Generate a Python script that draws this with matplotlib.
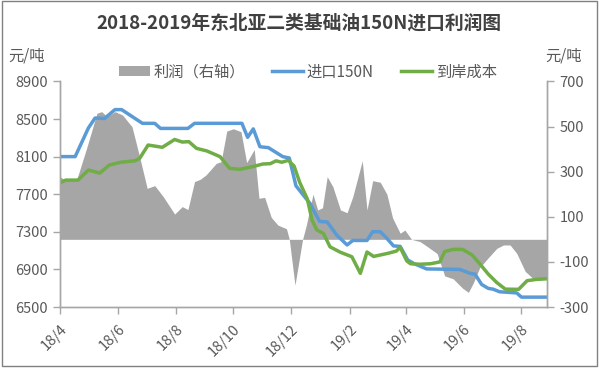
import matplotlib
matplotlib.use("Agg")
import matplotlib.pyplot as plt
import pandas as pd
from matplotlib.patches import Rectangle, Patch
from matplotlib.lines import Line2D

plt.rcParams['font.family'] = ['Noto Sans CJK SC', 'DejaVu Sans']
plt.rcParams['axes.unicode_minus'] = False

title = "2018-2019年东北亚二类基础油150N进口利润图"
unit_label = "元/吨"
series_names = ["利润（右轴）", "进口150N", "到岸成本"]

import_dates = ["2018-04-01", "2018-04-17", "2018-05-01", "2018-05-08", "2018-05-18", "2018-05-29",
                "2018-06-05", "2018-06-27", "2018-07-10", "2018-07-16", "2018-08-14", "2018-08-21",
                "2018-10-10", "2018-10-16", "2018-10-22", "2018-10-29", "2018-11-07", "2018-11-22",
                "2018-11-29", "2018-12-06", "2018-12-13", "2018-12-21", "2018-12-24", "2018-12-31",
                "2019-01-08", "2019-01-18", "2019-01-29", "2019-02-04", "2019-02-19", "2019-02-25",
                "2019-03-05", "2019-03-12", "2019-03-19", "2019-03-26", "2019-04-03", "2019-04-10",
                "2019-04-23", "2019-05-28", "2019-06-08", "2019-06-13", "2019-06-20", "2019-06-27",
                "2019-07-02", "2019-07-09", "2019-07-27", "2019-08-01", "2019-08-28"]
import_150n = [8100, 8100, 8405, 8510, 8505, 8600,
               8600, 8454, 8454, 8400, 8400, 8454,
               8454, 8305, 8395, 8205, 8195, 8100,
               8085, 7790, 7700, 7600, 7540, 7410,
               7405, 7266, 7160, 7208, 7208, 7301,
               7301, 7230, 7150, 7145, 7000, 6960,
               6905, 6900, 6858, 6850, 6740, 6698,
               6690, 6662, 6650, 6605, 6605]

cost_dates = ["2018-04-01", "2018-04-07", "2018-04-20", "2018-05-01", "2018-05-13", "2018-05-23",
              "2018-06-04", "2018-06-19", "2018-06-24", "2018-07-03", "2018-07-18", "2018-07-31",
              "2018-08-08", "2018-08-15", "2018-08-23", "2018-09-03", "2018-09-17", "2018-09-27",
              "2018-10-08", "2018-10-22", "2018-11-01", "2018-11-09", "2018-11-15", "2018-11-21",
              "2018-11-28", "2018-12-04", "2018-12-10", "2018-12-18", "2018-12-23", "2018-12-28",
              "2019-01-04", "2019-01-11", "2019-01-22", "2019-02-03", "2019-02-12", "2019-02-19",
              "2019-02-26", "2019-03-13", "2019-03-22", "2019-03-26", "2019-04-02", "2019-04-06",
              "2019-04-16", "2019-04-27", "2019-05-07", "2019-05-12", "2019-05-21", "2019-05-31",
              "2019-06-10", "2019-06-18", "2019-06-27", "2019-07-06", "2019-07-15", "2019-07-29",
              "2019-08-07", "2019-08-17", "2019-08-28"]
landed_cost = [7820, 7850, 7850, 7957, 7925, 8010,
               8040, 8055, 8080, 8223, 8199, 8282,
               8255, 8259, 8188, 8160, 8099, 7975,
               7965, 7995, 8021, 8025, 8055, 8040,
               8060, 8000, 7825, 7650, 7425, 7320,
               7283, 7140, 7082, 7035, 6858, 7085,
               7038, 7071, 7095, 7135, 6990, 6960,
               6955, 6960, 6980, 7090, 7113, 7113,
               7053, 6960, 6850, 6760, 6690, 6688,
               6780, 6794, 6800]

profit_dates = ["2018-04-01", "2018-04-06", "2018-04-19", "2018-04-29", "2018-05-10", "2018-05-15",
                "2018-05-21", "2018-05-29", "2018-06-06", "2018-06-16", "2018-06-24", "2018-07-02",
                "2018-07-10", "2018-07-19", "2018-07-31", "2018-08-08", "2018-08-14", "2018-08-21",
                "2018-08-27", "2018-09-02", "2018-09-13", "2018-09-18", "2018-09-24", "2018-10-01",
                "2018-10-09", "2018-10-15", "2018-10-23", "2018-10-28", "2018-11-03", "2018-11-10",
                "2018-11-17", "2018-11-26", "2018-11-29", "2018-12-05", "2018-12-13", "2018-12-17",
                "2018-12-24", "2018-12-29", "2019-01-03", "2019-01-08", "2019-01-14", "2019-01-22",
                "2019-01-29", "2019-02-04", "2019-02-14", "2019-02-19", "2019-02-25", "2019-03-05",
                "2019-03-12", "2019-03-18", "2019-03-26", "2019-03-31", "2019-04-07", "2019-04-16",
                "2019-04-23", "2019-05-04", "2019-05-12", "2019-05-21", "2019-05-31", "2019-06-06",
                "2019-06-11", "2019-06-18", "2019-06-28", "2019-07-06", "2019-07-13", "2019-07-20",
                "2019-07-27", "2019-08-05", "2019-08-13", "2019-08-28"]
profit = [278, 263, 270, 403, 559, 566,
          543, 566, 551, 499, 366, 226,
          238, 189, 112, 145, 132, 256,
          266, 285, 337, 344, 480, 490,
          477, 340, 398, 182, 186, 97,
          63, 47, 0, -203, 0, 63,
          200, 130, 140, 278, 233, 130,
          118, 189, 348, 130, 260, 253,
          200, 95, 27, 41, 0, -10,
          -30, -63, -162, -175, -217, -235,
          -195, -125, -77, -40, -25, -25,
          -62, -142, -173, -178]

x_tick_dates = ["2018-04-01", "2018-06-01", "2018-08-01", "2018-10-01", "2018-12-01",
                "2019-02-01", "2019-04-01", "2019-06-01", "2019-08-01"]
x_tick_labels = ["18/4", "18/6", "18/8", "18/10", "18/12", "19/2", "19/4", "19/6", "19/8"]
left_ticks = [6500, 6900, 7300, 7700, 8100, 8500, 8900]
right_ticks = [-300, -100, 100, 300, 500, 700]

BLUE = "#5b9bd5"
GREEN = "#70ad47"
GREY = "#a6a6a6"
AXC = "#a6a6a6"
TXT = "#595959"

fig = plt.figure(figsize=(6.0, 3.69), dpi=100)
ax = fig.add_axes([0.1, 0.168, 0.8117, 0.6114])
ax2 = ax.twinx()
ax.set_zorder(ax2.get_zorder() + 1)
ax.patch.set_visible(False)

ax2.fill_between(pd.to_datetime(profit_dates), 0, profit, color=GREY, lw=0)
ax.plot(pd.to_datetime(import_dates), import_150n, color=BLUE, lw=2.5, solid_joinstyle='round')
ax.plot(pd.to_datetime(cost_dates), landed_cost, color=GREEN, lw=2.5, solid_joinstyle='round')

ax.set_xlim(pd.Timestamp("2018-04-01"), pd.Timestamp("2019-08-28"))
ax.set_ylim(6500, 8900)
ax2.set_ylim(-300, 700)

ax.set_yticks(left_ticks)
ax.set_yticklabels([str(v) for v in left_ticks])
ax2.set_yticks(right_ticks)
ax2.set_yticklabels([str(v) for v in right_ticks])
ax.set_xticks(pd.to_datetime(x_tick_dates))
ax.set_xticklabels(x_tick_labels, rotation=45, ha='right', rotation_mode='anchor')

for a in (ax, ax2):
    a.spines['top'].set_visible(False)
    for s in ('left', 'right', 'bottom'):
        a.spines[s].set_color(AXC)
        a.spines[s].set_linewidth(1.0)
    a.tick_params(colors=AXC, labelcolor=TXT, labelsize=10.5, length=5, width=1.0, direction='out')
ax.tick_params(axis='y', pad=4)
ax2.tick_params(axis='y', pad=4)
ax.tick_params(axis='x', pad=6)

fig.text(0.499, 0.938, title, ha='center', va='center', fontsize=13.5, fontweight='bold', color='#404040')
fig.text(0.045, 0.848, unit_label, ha='center', va='center', fontsize=11, color=TXT)
fig.text(0.94, 0.848, unit_label, ha='center', va='center', fontsize=11, color=TXT)

handles = [Patch(facecolor=GREY, edgecolor='none'),
           Line2D([0], [0], color=BLUE, lw=2.5),
           Line2D([0], [0], color=GREEN, lw=2.5)]
fig.legend(handles, series_names, loc='center', bbox_to_anchor=(0.513, 0.805), ncol=3,
           frameon=False, fontsize=11, handlelength=2.0, handleheight=0.7,
           handletextpad=0.25, columnspacing=1.8, labelcolor=TXT)

fig.add_artist(Rectangle((0.0025, 0.008), 0.993, 0.989, transform=fig.transFigure,
                         fill=False, edgecolor='#808080', lw=1.0))

fig.savefig("out.png", dpi=100)
